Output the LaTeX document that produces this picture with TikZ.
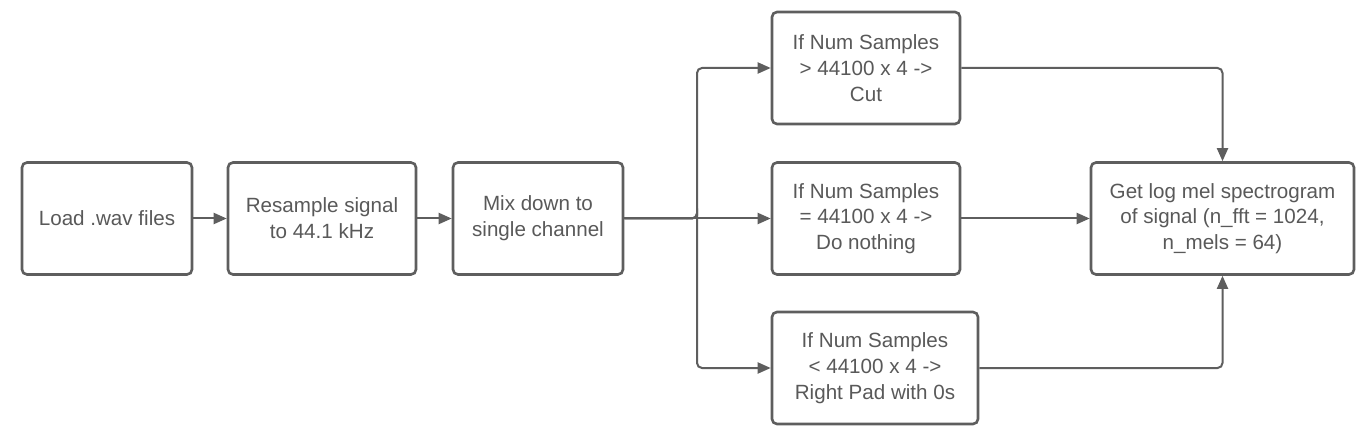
\documentclass[tikz,border=0pt]{standalone}
\usepackage{fontspec}
\setmainfont{Liberation Sans}
\usetikzlibrary{arrows.meta}
\definecolor{edgec}{HTML}{5E5E5E}
\definecolor{textc}{HTML}{595959}
\begin{document}
\begin{tikzpicture}[x=1pt,y=-1pt,
  box/.style={draw=edgec, line width=2.6pt, rounded corners=5pt, fill=white,
    minimum height=112pt, align=center, text=textc, inner sep=0pt,
    font=\fontsize{20.6}{25.8}\selectfont},
  conn/.style={draw=edgec, line width=2pt, rounded corners=5pt,
    -{Triangle[length=13pt,width=11pt]}},
]
\useasboundingbox (0,0) rectangle (1367,443);
\fill[white] (0,0) rectangle (1367,443);
\node[box, minimum width=170pt] (load) at (107,218.5) {Load .wav files};
\node[box, minimum width=188pt] (res) at (322,218.5) {Resample signal\\to 44.1 kHz};
\node[box, minimum width=170pt] (mix) at (538,218.5) {Mix down to\\single channel};
\node[box, minimum width=188pt] (cut) at (866,68) {If Num Samples\\> 44100 x 4 ->\\Cut};
\node[box, minimum width=188pt] (eq) at (866,218.5) {If Num Samples\\= 44100 x 4 ->\\Do nothing};
\node[box, minimum width=206pt] (pad) at (875,368) {If Num Samples\\< 44100 x 4 ->\\Right Pad with 0s};
\node[box, minimum width=263pt] (mel) at (1222.5,218.5) {Get log mel spectrogram\\of signal (n\_fft = 1024,\\n\_mels = 64)};
\coordinate (br) at (697,218.5);
\draw[conn] (load) -- (res);
\draw[conn] (res) -- (mix);
\draw[conn] (mix.east) -| (br) |- (cut.west);
\draw[conn] (mix.east) -- (eq.west);
\draw[conn] (mix.east) -| (br) |- (pad.west);
\draw[conn] (cut.east) -| (mel.north);
\draw[conn] (eq.east) -- (mel.west);
\draw[conn] (pad.east) -| (mel.south);
\end{tikzpicture}
\end{document}
